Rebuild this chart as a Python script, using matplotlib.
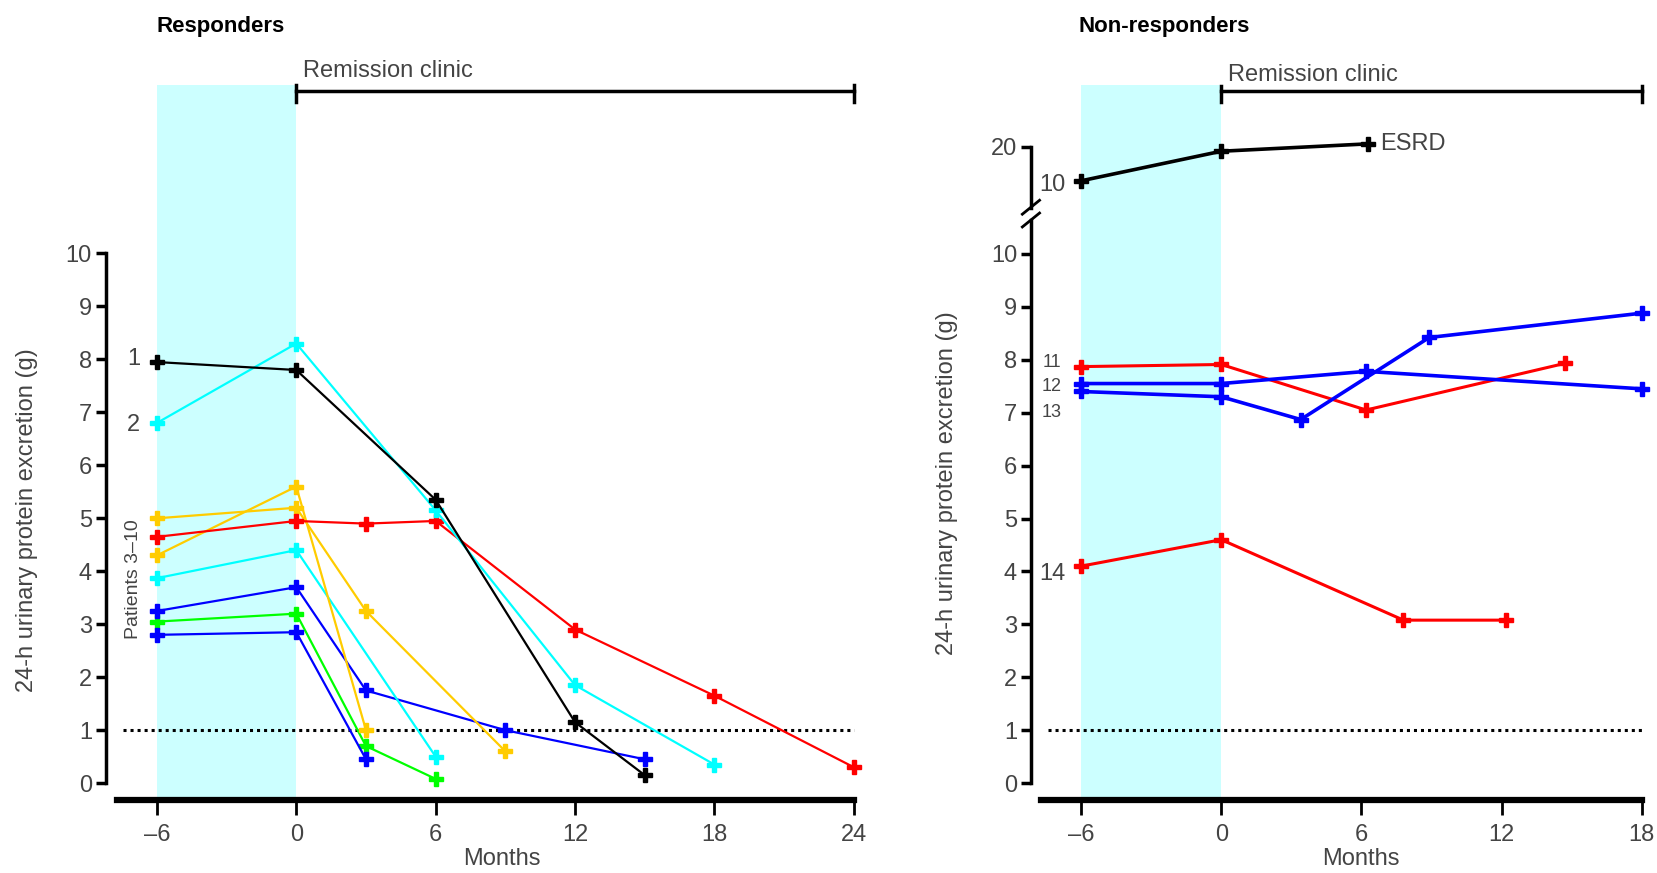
import numpy as np
import matplotlib.pyplot as plt

plt.rcParams['font.family'] = ['Liberation Sans', 'DejaVu Sans']

# ---- responders (months, 24-h protein g)
r1_m = [-6, 0, 6, 12, 15]
r1_v = [7.95, 7.8, 5.35, 1.15, 0.15]
r2_m = [-6, 0, 6, 12, 18]
r2_v = [6.8, 8.3, 5.15, 1.85, 0.35]
r_gold1_m = [-6, 0, 3, 9]
r_gold1_v = [5.0, 5.2, 3.25, 0.6]
r_gold2_m = [-6, 0, 3]
r_gold2_v = [4.3, 5.6, 1.0]
r_red_m = [-6, 0, 3, 6, 12, 18, 24]
r_red_v = [4.65, 4.95, 4.9, 4.95, 2.9, 1.65, 0.3]
r_cyan_m = [-6, 0, 6]
r_cyan_v = [3.87, 4.4, 0.5]
r_blue1_m = [-6, 0, 3, 9, 15]
r_blue1_v = [3.25, 3.7, 1.75, 1.0, 0.45]
r_blue2_m = [-6, 0, 3]
r_blue2_v = [2.8, 2.85, 0.45]
r_green_m = [-6, 0, 3, 6]
r_green_v = [3.05, 3.2, 0.7, 0.08]

# ---- non-responders
n10_m = [-6, 0, 6.3]
n10_v = [15.4, 19.4, 20.4]
n11_m = [-6, 0, 6.2, 14.7]
n11_v = [7.87, 7.91, 7.05, 7.93]
n12_m = [-6, 0, 6.2, 18]
n12_v = [7.55, 7.55, 7.78, 7.45]
n13_m = [-6, 0, 3.4, 8.9, 18]
n13_v = [7.4, 7.3, 6.87, 8.42, 8.88]
n14_m = [-6, 0, 7.8, 12.2]
n14_v = [4.1, 4.6, 3.08, 3.08]

threshold = 1.0
xt_left = [-6, 0, 6, 12, 18, 24]
xt_right = [-6, 0, 6, 12, 18]

BLACK, CYAN, GOLD, RED, BLUE, GREEN = '#000000', '#00ffff', '#ffcc00', '#ff0000', '#0000ff', '#00ff00'
SHADE = '#ccffff'
TXT = '#444444'
FS = 17

fig = plt.figure(figsize=(16.58, 8.73), dpi=100)
axL = fig.add_axes([0.0638, 0.0835, 0.454, 0.8197])
axR = fig.add_axes([0.6218, 0.0835, 0.3705, 0.6645])
axU = fig.add_axes([0.6218, 0.748, 0.3705, 0.155], sharex=axR)


def style(ax):
    for s in ['top', 'right']:
        ax.spines[s].set_visible(False)
    ax.spines['left'].set_linewidth(2.5)
    ax.spines['bottom'].set_linewidth(4.5)
    ax.tick_params(axis='y', direction='out', length=7, width=2.5, labelsize=FS,
                   labelcolor=TXT, pad=3)
    ax.tick_params(axis='x', direction='out', length=11, width=2, labelsize=FS,
                   labelcolor=TXT, pad=6)


def series(ax, m, v, c, lw=1.6):
    ax.plot(m, v, color=c, lw=lw, marker='P', ms=10.5, mec=c, mfc=c, clip_on=False, zorder=3)


def bracket(ax, x0, x1, y, dlo, dhi, label):
    tr = ax.get_xaxis_transform()
    ax.plot([x0, x1], [y, y], color='black', lw=2.5, transform=tr, clip_on=False)
    for x in (x0, x1):
        ax.plot([x, x], [y - dlo, y + dhi], color='black', lw=2.5, transform=tr, clip_on=False)
    ax.text(x0 + 0.3, y + dhi + 0.005, label, transform=tr, fontsize=FS, color=TXT,
            ha='left', va='bottom', clip_on=False)


# ---------------- responders
style(axL)
axL.set_xlim(-8.2, 24.2)
axL.set_ylim(-0.32, 13.19)
axL.set_yticks(range(0, 11))
axL.set_xticks(xt_left)
axL.set_xticklabels([str(t).replace('-', '\u2013') for t in xt_left])
axL.spines['left'].set_bounds(0, 10)
axL.spines['bottom'].set_bounds(-7.7, 24)
axL.axvspan(-6, 0, color=SHADE, zorder=0, lw=0)
axL.plot([-7.45, 24], [threshold, threshold], color='black', lw=2.2, ls=(0, (1, 1.3)), zorder=2)

series(axL, r_green_m, r_green_v, GREEN)
series(axL, r_blue2_m, r_blue2_v, BLUE)
series(axL, r_blue1_m, r_blue1_v, BLUE)
series(axL, r_cyan_m, r_cyan_v, CYAN)
series(axL, r_gold2_m, r_gold2_v, GOLD)
series(axL, r_gold1_m, r_gold1_v, GOLD)
series(axL, r_red_m, r_red_v, RED)
series(axL, r2_m, r2_v, CYAN)
series(axL, r1_m, r1_v, BLACK)

axL.text(-7.0, 8.0, '1', fontsize=FS, color=TXT, ha='center', va='center')
axL.text(-7.0, 6.77, '2', fontsize=FS, color=TXT, ha='center', va='center')
axL.text(-7.0, 3.85, 'Patients 3\u201310', fontsize=FS - 3, color=TXT, ha='center', va='center',
         rotation=90)
bracket(axL, 0, 24, 0.991, 0.015, 0.008, 'Remission clinic')

# ---------------- non-responders
for ax in (axR, axU):
    style(ax)
    ax.axvspan(-6, 0, color=SHADE, zorder=0, lw=0)
axR.set_xlim(-8.15, 18.15)
axR.set_ylim(-0.32, 10.64)
axR.set_yticks(range(0, 11))
axR.set_xticks(xt_right)
axR.set_xticklabels([str(t).replace('-', '\u2013') for t in xt_right])
axR.spines['left'].set_bounds(0, 10.64)
axR.spines['bottom'].set_bounds(-7.7, 18)
axR.plot([-7.4, 18], [threshold, threshold], color='black', lw=2.2, ls=(0, (1, 1.3)), zorder=2)

axU.set_ylim(10.1, 28.4)
axU.set_yticks([20])
axU.spines['left'].set_bounds(11.7, 20)
axU.spines['bottom'].set_visible(False)
axU.tick_params(axis='x', bottom=False, labelbottom=False)
axU.patch.set_visible(False)

series(axR, n14_m, n14_v, RED, lw=2.2)
series(axR, n11_m, n11_v, RED, lw=2.2)
series(axR, n13_m, n13_v, BLUE, lw=2.6)
series(axR, n12_m, n12_v, BLUE, lw=2.6)
series(axU, n10_m, n10_v, BLACK, lw=2.6)

for lab, yv in [('11', 7.95), ('12', 7.5), ('13', 7.0)]:
    axR.text(-7.25, yv, lab, fontsize=13, color=TXT, ha='center', va='center')
axR.text(-7.25, 3.95, '14', fontsize=FS, color=TXT, ha='center', va='center')
axU.text(-7.25, 14.9, '10', fontsize=FS, color=TXT, ha='center', va='center')
axU.text(6.8, 20.4, 'ESRD', fontsize=FS, color=TXT, ha='left', va='center')
bracket(axU, 0, 18, 0.953, 0.078, 0.035, 'Remission clinic')

# axis break marks
for yb in (1.0, 1.022):
    axR.plot([-0.014, 0.014], [yb - 0.012, yb + 0.012], color='black', lw=2,
             transform=axR.transAxes, clip_on=False)

# titles and axis labels
fig.text(0.0944, 0.958, 'Responders', fontsize=16, fontweight='bold', ha='left', va='bottom')
fig.text(0.6505, 0.958, 'Non-responders', fontsize=16, fontweight='bold', ha='left', va='bottom')
fig.text(0.016, 0.404, '24-h urinary protein excretion (g)', rotation=90, fontsize=FS,
         color=TXT, ha='center', va='center')
fig.text(0.571, 0.447, '24-h urinary protein excretion (g)', rotation=90, fontsize=FS,
         color=TXT, ha='center', va='center')
fig.text(0.303, 0.004, 'Months', fontsize=FS, color=TXT, ha='center', va='bottom')
fig.text(0.821, 0.004, 'Months', fontsize=FS, color=TXT, ha='center', va='bottom')

fig.savefig('out.png', dpi=100)
